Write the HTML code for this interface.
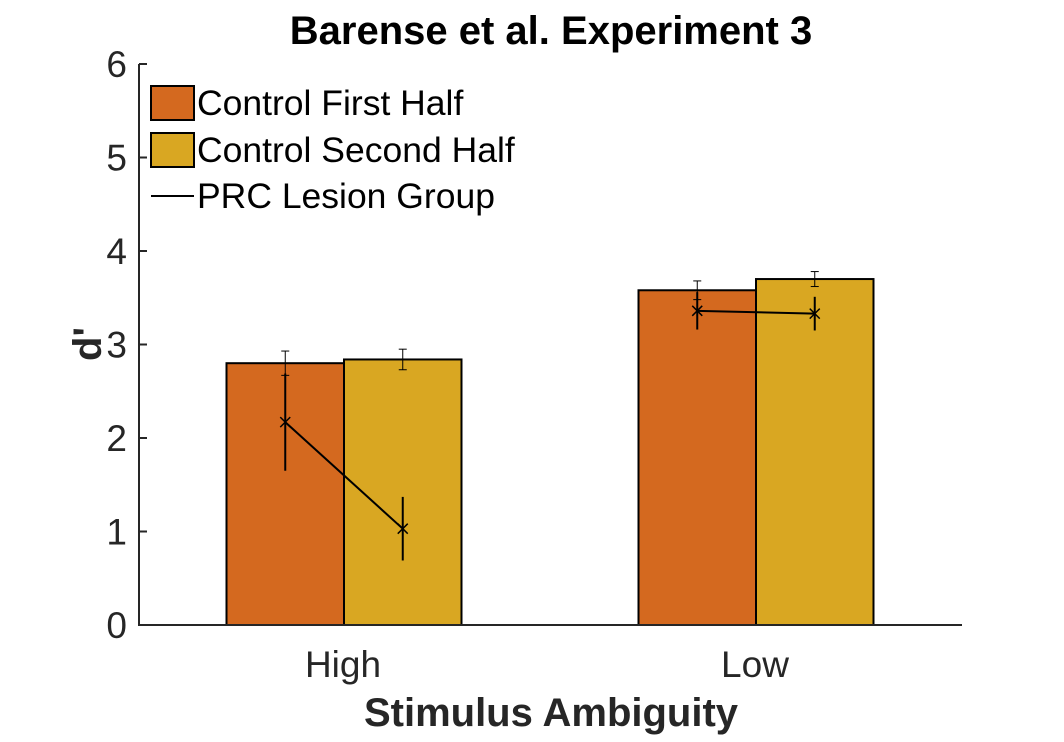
<!DOCTYPE html>
<html><head><meta charset="utf-8"><style>
body{margin:0;background:#fff}
svg text{font-family:"Liberation Sans",sans-serif}
</style></head><body>
<svg id="c" width="1064" height="737" xmlns="http://www.w3.org/2000/svg"></svg>
<script>
const categories=["High","Low"];
const firstHalf=[2.80,3.58];
const firstErr=[0.13,0.10];
const secondHalf=[2.84,3.70];
const secondErr=[0.11,0.08];
const prc=[[2.17,1.03],[3.36,3.33]];
const prcErr=[[0.52,0.34],[0.20,0.18]];
const yTicks=[0,1,2,3,4,5,6];
const NS="http://www.w3.org/2000/svg";
const svg=document.getElementById('c');
const x0=139,x1=962,yBase=625,yTop=64;
const y=v=>yBase-(v/6)*(yBase-yTop);
const groupCenter=i=>344+i*412;
const bw=117.5;
function el(t,a,p){const e=document.createElementNS(NS,t);for(const k in a)e.setAttribute(k,a[k]);(p||svg).appendChild(e);return e;}
function txt(s,a){const e=el('text',a);e.textContent=s;return e;}
categories.forEach((c,i)=>{
  const cx=groupCenter(i);
  [[firstHalf,firstErr,'#d4691f',-1],[secondHalf,secondErr,'#d9a722',0]].forEach(([d,er,col,o],k)=>{
    const r=el('rect',{x:cx+o*bw,y:y(d[i]),width:bw,height:yBase-y(d[i]),fill:col,stroke:'#000','stroke-width':2});
    
    
    const bx=cx+o*bw+bw/2;
    const g=el('g',{stroke:'#000','stroke-width':1});
    
    
    el('line',{x1:bx,x2:bx,y1:y(d[i]-er[i]),y2:y(d[i]+er[i])},g);
    el('line',{x1:bx-4,x2:bx+4,y1:y(d[i]-er[i]),y2:y(d[i]-er[i])},g);
    el('line',{x1:bx-4,x2:bx+4,y1:y(d[i]+er[i]),y2:y(d[i]+er[i])},g);
  });
  const px=[cx-bw/2,cx+bw/2];
  const g=el('g',{stroke:'#000','stroke-width':2,fill:'none'});
  
  
  el('line',{x1:px[0],y1:y(prc[i][0]),x2:px[1],y2:y(prc[i][1])},g);
  [0,1].forEach(j=>{
    const v=prc[i][j],e=prcErr[i][j],X=px[j],Y=y(v);
    el('line',{x1:X,x2:X,y1:y(v-e),y2:y(v+e)},g);
    el('path',{d:`M${X-5} ${Y-5}L${X+5} ${Y+5}M${X-5} ${Y+5}L${X+5} ${Y-5}`,'stroke-width':1.5},g);
  });
  const t=txt(c,{x:cx-1,y:677,'font-size':37,'text-anchor':'middle',fill:'#262626'});
  
  
});
const ax=el('path',{d:`M${x0} ${yTop}V${yBase}H${x1}`,stroke:'#262626','stroke-width':2,fill:'none'});


yTicks.forEach(v=>{
  el('line',{x1:x0,x2:x0+8,y1:y(v),y2:y(v),stroke:'#262626','stroke-width':2});
  const t=txt(v,{x:x0-12,y:y(v)+13,'font-size':37,'text-anchor':'end',fill:'#262626'});
  
  
});
let t=txt('Barense et al. Experiment 3',{x:551,y:44,'font-size':40,'font-weight':'bold','text-anchor':'middle',fill:'#000'});

t=txt('Stimulus Ambiguity',{x:551,y:726,'font-size':40,'font-weight':'bold','text-anchor':'middle',fill:'#262626'});

t=txt("d'",{x:0,y:0,'font-size':40,'font-weight':'bold','text-anchor':'middle',fill:'#262626',transform:'translate(101,344) rotate(-90)'});

[['Control First Half','#d4691f',103],['Control Second Half','#d9a722',150]].forEach(([l,c,yy])=>{
  const g=el('g',{});
  
  
  el('rect',{x:151,y:yy-17,width:43,height:34,fill:c,stroke:'#000','stroke-width':2},g);
  const tt=el('text',{x:197,y:yy+12,'font-size':35.5,fill:'#000'},g);tt.textContent=l;
});
const lg=el('g',{});


el('line',{x1:151,x2:194,y1:196,y2:196,stroke:'#000','stroke-width':2},lg);
const lt=el('text',{x:197,y:208,'font-size':35.5,fill:'#000'},lg);lt.textContent='PRC Lesion Group';
</script>
</body></html>
